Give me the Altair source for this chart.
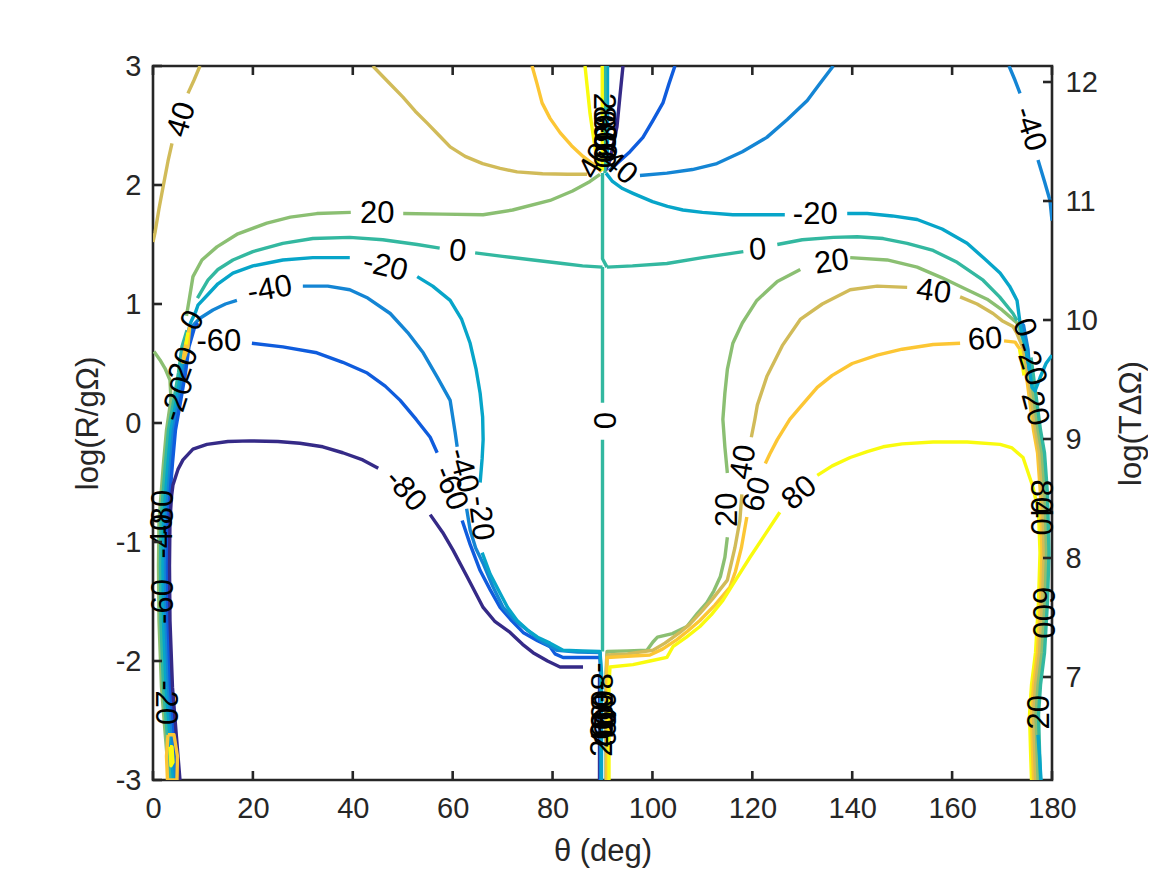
import altair as alt
import pandas as pd

# ---------------- data ----------------
LEVELS = ["-80", "-60", "-40", "-20", "0", "20", "40", "60", "80"]
COLORS = ["#352a87", "#0f5cdd", "#1485d4", "#07a5c9", "#33b8a0",
          "#8bbf72", "#d1bb59", "#fcc634", "#f9fb0e"]
X_TICKS = [0, 20, 40, 60, 80, 100, 120, 140, 160, 180]
Y_TICKS = [-3, -2, -1, 0, 1, 2, 3]
Y2_TICKS = [7, 8, 9, 10, 11, 12]
Y2_DOMAIN = [6.1345, 12.1345]

# level -80
N80_left = [(5.4, -3.0), (4.7, -2.64), (3.9, -2.22), (3.4, -1.66), (3.3, -1.2), (3.4, -0.82),
            (3.7, -0.62), (4.0, -0.52), (5.0, -0.39), (6.0, -0.31), (8.0, -0.22), (10.8, -0.18),
            (15.0, -0.155), (19.4, -0.15), (25.0, -0.155), (29.4, -0.17), (34.0, -0.2),
            (38.0, -0.25), (42.0, -0.31), (45.1, -0.38)]
N80_low = [(55.5, -0.77), (58.0, -0.92), (60.1, -1.07), (63.0, -1.3), (66.1, -1.55), (68.5, -1.67),
           (71.5, -1.76), (72.5, -1.8), (74.0, -1.86), (76.1, -1.93), (79.0, -2.0), (81.5, -2.05),
           (86.1, -2.05)]
N80_stem = [(89.4, -2.12), (89.4, -3.0)]
N80_top = [(94.1, 3.0), (93.5, 2.75), (92.9, 2.49), (92.2, 2.35), (91.5, 2.21), (90.6, 2.12)]

# level -60
N60_left = [(5.0, -3.0), (4.3, -2.64), (3.5, -2.22), (3.0, -1.66), (2.9, -1.2), (3.0, -0.82),
            (3.9, -0.34), (4.5, -0.06), (5.6, 0.2), (6.5, 0.42), (7.2, 0.64), (8.3, 0.8), (9.0, 0.84)]
N60_mid = [(19.8, 0.67), (26.0, 0.64), (32.8, 0.59), (38.0, 0.51), (42.9, 0.42), (46.5, 0.31),
           (49.5, 0.19), (52.7, 0.03), (55.5, -0.12), (56.9, -0.25)]
N60_low = [(61.9, -0.82), (63.5, -1.02), (65.5, -1.24), (67.5, -1.4), (69.5, -1.55), (71.8, -1.66),
           (74.1, -1.76), (77.0, -1.83), (79.5, -1.88), (80.5, -1.94), (82.1, -1.97), (86.0, -1.97),
           (89.5, -1.97), (89.6, -2.1), (89.6, -3.0)]
N60_top = [(104.5, 3.0), (103.3, 2.85), (102.1, 2.69), (100.2, 2.55), (98.1, 2.4), (95.5, 2.28),
           (92.9, 2.18), (91.3, 2.12)]

# level -40
N40_left = [(4.6, -3.0), (3.9, -2.64), (3.1, -2.22), (2.6, -1.66), (2.5, -1.2), (2.6, -0.82),
            (3.5, -0.34), (4.1, -0.06), (5.2, 0.2), (6.1, 0.42), (6.8, 0.64), (8.0, 0.82),
            (9.4, 0.88), (12.0, 0.95), (14.5, 1.0), (16.8, 1.03)]
N40_mid = [(30.0, 1.15), (35.0, 1.15), (39.4, 1.12), (43.0, 1.05), (47.5, 0.92), (51.0, 0.76),
           (54.1, 0.59), (57.0, 0.38), (59.5, 0.19), (60.5, -0.08), (60.9, -0.2)]
N40_low = [(62.8, -0.72), (63.5, -0.9), (64.6, -1.05), (66.1, -1.18), (68.0, -1.37), (70.1, -1.55),
           (72.5, -1.66), (75.5, -1.76), (78.0, -1.84), (80.9, -1.91), (85.0, -1.925),
           (89.5, -1.93), (89.7, -2.1), (89.7, -3.0)]
N40_top = [(136.2, 3.0), (133.5, 2.85), (131.0, 2.71), (127.0, 2.55), (122.9, 2.4), (118.0, 2.28),
           (112.9, 2.18), (108.0, 2.13), (102.9, 2.1), (97.5, 2.08)]
N40_tr = [(171.4, 3.0), (172.6, 2.88), (173.6, 2.77)]
N40_tr2 = [(177.2, 2.21), (178.5, 2.03), (179.6, 1.87), (180.0, 1.7)]
N40_blob = [(173.9, 0.84), (174.8, 0.62), (175.5, 0.44), (175.2, 0.62), (174.3, 0.82), (173.9, 0.84)]

# level -20
N20_left = [(4.1, -3.0), (3.4, -2.64), (2.6, -2.22), (2.1, -1.66), (2.0, -1.2), (2.1, -0.82),
            (3.0, -0.34), (3.6, -0.06), (4.7, 0.2), (5.6, 0.42), (6.3, 0.64), (7.5, 0.84),
            (8.5, 0.93), (9.0, 0.99), (11.0, 1.08), (13.0, 1.17), (16.0, 1.26), (20.0, 1.32),
            (26.0, 1.37), (32.0, 1.39), (39.4, 1.39)]
N20_mid = [(52.9, 1.23), (56.0, 1.15), (59.5, 1.03), (61.8, 0.87), (63.5, 0.67), (64.7, 0.45),
           (65.5, 0.25), (66.0, 0.05), (66.1, -0.14), (65.9, -0.3), (65.5, -0.5)]
N20_low = [(65.9, -1.09), (67.5, -1.27), (69.5, -1.43), (71.0, -1.55), (72.9, -1.66), (75.0, -1.74),
           (77.0, -1.8), (79.5, -1.85), (82.1, -1.91), (86.0, -1.915), (89.5, -1.92),
           (89.8, -2.1), (89.8, -3.0)]
N20_top = [(90.7, 2.1), (92.0, 2.03), (94.0, 1.97), (96.1, 1.93), (100.0, 1.86), (103.0, 1.82),
           (106.1, 1.79), (110.0, 1.77), (116.1, 1.75), (122.0, 1.75), (126.5, 1.75)]
N20_tr = [(139.0, 1.76), (143.0, 1.76), (148.0, 1.74), (153.0, 1.71), (158.0, 1.63), (163.0, 1.51),
          (166.5, 1.38), (169.6, 1.26), (171.5, 1.15), (173.0, 1.03), (173.6, 0.84), (174.0, 0.74)]
N20_edge = [(180.0, 0.57), (178.8, 0.5), (177.6, 0.38), (176.6, 0.27), (176.0, 0.3), (175.4, 0.48),
            (174.6, 0.66), (174.0, 0.74)]
N20_vert = [(91.0, 2.15), (91.0, 3.0)]
N20_blob = [(177.2, -2.62), (177.5, -2.8), (177.8, -3.0)]

# level 0
Z_left = [(3.6, -3.0), (2.9, -2.64), (2.1, -2.22), (1.6, -1.66), (1.5, -1.2), (1.6, -0.82),
          (2.5, -0.34), (3.1, -0.06), (4.2, 0.2), (5.1, 0.42), (5.8, 0.64), (6.8, 0.78)]
Z_ul = [(8.9, 1.05), (11.0, 1.2), (13.0, 1.29), (16.0, 1.37), (20.0, 1.44), (26.0, 1.51),
        (32.0, 1.55), (39.4, 1.56), (46.0, 1.54), (52.9, 1.5), (57.4, 1.47)]
Z_um = [(64.5, 1.43), (70.0, 1.4), (76.1, 1.37), (82.0, 1.34), (86.0, 1.32), (90.0, 1.31)]
Z_vert1 = [(90.0, 2.1), (90.0, 1.38), (90.9, 1.31)]
Z_vert2 = [(90.0, 1.31), (90.0, 0.17)]
Z_vert3 = [(90.0, -0.14), (90.0, -1.92)]
Z_ur = [(90.9, 1.31), (96.0, 1.32), (102.9, 1.34), (110.0, 1.39), (118.2, 1.44)]
Z_ur2 = [(125.0, 1.5), (130.0, 1.54), (136.2, 1.56), (141.0, 1.565), (146.2, 1.55), (151.0, 1.51),
         (156.2, 1.45), (161.0, 1.35), (166.2, 1.2), (169.5, 1.06), (172.2, 0.92), (173.0, 0.86)]
Z_right = [(177.7, -3.0), (177.5, -2.75), (177.3, -2.45), (177.7, -2.2), (178.5, -1.93),
           (179.1, -1.5), (179.4, -1.09), (179.1, -0.6), (178.5, -0.25), (177.7, -0.06),
           (176.4, 0.36), (175.8, 0.55)]
Z_top = [(90.5, 2.1), (90.5, 3.0)]

# level 20
P20_edge = [(0.2, 0.6), (1.4, 0.53), (2.4, 0.46), (3.4, 0.36), (3.6, 0.2), (2.7, -0.06),
            (2.1, -0.34), (1.2, -0.82), (1.1, -1.2), (1.2, -1.66), (1.7, -2.22), (2.5, -2.64),
            (3.2, -3.0)]
P20_ul = [(6.7, 0.9), (7.3, 1.05), (8.0, 1.23), (9.8, 1.37), (12.8, 1.48), (17.0, 1.59),
          (22.8, 1.68), (27.5, 1.73), (32.8, 1.76), (39.6, 1.77)]
P20_um = [(50.1, 1.76), (58.0, 1.755), (66.1, 1.75), (72.0, 1.79), (79.5, 1.87), (84.0, 1.95),
          (87.5, 2.03), (89.5, 2.09)]
P20_right = [(177.2, -3.0), (177.0, -2.75), (176.8, -2.45), (177.2, -2.2), (178.0, -1.93),
             (178.6, -1.5), (178.9, -1.09), (178.6, -0.6), (178.0, -0.25), (177.2, -0.06),
             (175.9, 0.36), (174.8, 0.62), (173.4, 0.8), (173.0, 0.84), (170.0, 0.95),
             (167.0, 1.04), (163.0, 1.12), (158.0, 1.22), (153.0, 1.31), (147.0, 1.37),
             (139.6, 1.39)]
P20_rm = [(129.6, 1.29), (125.0, 1.19), (120.9, 1.03), (118.0, 0.84), (116.1, 0.67), (115.0, 0.45),
          (114.5, 0.25), (114.1, 0.03), (114.5, -0.2), (115.0, -0.42)]
P20_rl = [(115.0, -0.96), (114.5, -1.13), (113.6, -1.29), (112.3, -1.41), (110.9, -1.51),
          (109.0, -1.6), (106.9, -1.71), (104.0, -1.77), (101.0, -1.8), (100.1, -1.84),
          (98.9, -1.91), (95.0, -1.915), (90.9, -1.92), (90.7, -2.1), (90.7, -3.0)]

# level 40
P40_tl = [(9.4, 3.0), (8.2, 2.88), (7.0, 2.77)]
P40_tl2 = [(3.8, 2.35), (3.0, 2.2), (2.0, 1.98), (1.2, 1.8), (0.4, 1.6), (0.0, 1.52)]
P40_top = [(44.0, 3.0), (47.0, 2.87), (50.0, 2.74), (52.5, 2.62), (54.9, 2.52), (57.2, 2.42),
           (59.5, 2.32), (62.5, 2.24), (66.0, 2.18), (69.5, 2.14), (72.9, 2.11), (78.0, 2.095),
           (83.0, 2.09), (86.9, 2.09)]
P40_right = [(176.7, -3.0), (176.5, -2.75), (176.3, -2.45), (176.7, -2.2), (177.5, -1.93),
             (178.1, -1.5), (178.4, -1.09), (178.1, -0.6), (177.5, -0.25), (176.7, -0.06),
             (175.4, 0.36), (174.3, 0.62), (172.9, 0.76), (172.2, 0.81), (170.0, 0.86),
             (168.2, 0.92), (165.0, 1.0), (161.6, 1.06)]
P40_rm = [(151.0, 1.14), (145.0, 1.15), (139.6, 1.12), (134.0, 1.0), (129.6, 0.87), (126.0, 0.65),
          (122.9, 0.39), (121.0, 0.15), (120.5, 0.03), (119.8, -0.12)]
P40_rl = [(117.9, -0.6), (117.5, -0.82), (116.5, -1.05), (115.0, -1.32), (112.0, -1.48),
          (109.5, -1.6), (107.5, -1.69), (105.5, -1.76), (102.5, -1.85), (100.1, -1.91),
          (95.0, -1.94), (90.9, -1.95), (90.8, -2.1), (90.8, -3.0)]

# level 60
P60_top = [(75.9, 3.0), (76.9, 2.85), (77.9, 2.69), (79.5, 2.56), (81.5, 2.44), (83.8, 2.33),
           (86.1, 2.24), (88.9, 2.15), (89.8, 2.11)]
P60_right = [(176.3, -3.0), (176.1, -2.75), (175.9, -2.45), (176.3, -2.2), (177.1, -1.93),
             (177.7, -1.5), (178.0, -1.09), (177.7, -0.6), (177.1, -0.25), (176.3, -0.06),
             (175.0, 0.36), (173.9, 0.6), (172.6, 0.68), (170.4, 0.69)]
P60_rm = [(161.6, 0.67), (156.2, 0.66), (150.0, 0.62), (145.0, 0.57), (140.0, 0.5), (136.0, 0.4),
          (133.0, 0.3), (129.5, 0.13), (127.5, 0.03), (125.0, -0.14), (123.5, -0.26), (122.6, -0.34)]
P60_rl = [(118.9, -0.79), (117.8, -1.05), (116.6, -1.25), (115.5, -1.38), (112.5, -1.53),
          (109.5, -1.66), (107.0, -1.75), (104.9, -1.82), (102.0, -1.9), (99.5, -1.95),
          (95.0, -1.96), (90.9, -1.97), (90.9, -3.0)]
P60_blob_bl = [(3.0, -2.62), (2.7, -2.8), (2.9, -3.0), (4.8, -3.0), (4.9, -2.8), (4.2, -2.62),
               (3.0, -2.62)]
P60_blob_l = [(5.9, 0.5), (6.5, 0.66), (7.3, 0.8), (7.0, 0.64), (5.9, 0.5)]

# level 80
P80_top = [(86.5, 3.0), (87.0, 2.8), (87.5, 2.6), (88.2, 2.4), (88.9, 2.21), (89.6, 2.12)]
P80_vert = [(89.95, 2.12), (89.95, 3.0)]
P80_right = [(175.9, -3.0), (175.7, -2.75), (175.5, -2.45), (175.9, -2.2), (176.7, -1.93),
             (177.3, -1.5), (177.6, -1.09), (177.3, -0.75), (176.2, -0.54), (174.2, -0.29),
             (172.0, -0.21), (169.6, -0.18), (163.0, -0.16), (156.2, -0.16), (150.0, -0.175),
             (146.2, -0.2), (143.0, -0.24), (139.6, -0.29), (136.0, -0.36), (133.0, -0.44)]
P80_rl = [(125.5, -0.75), (122.5, -0.94), (119.5, -1.13), (116.8, -1.31), (114.1, -1.49),
          (111.8, -1.61), (109.5, -1.71), (106.8, -1.8), (104.1, -1.88), (102.9, -1.97),
          (99.5, -2.0), (96.1, -2.03), (91.5, -2.05), (91.3, -2.2), (91.3, -3.0)]
P80_blob_bl = [(3.4, -2.72), (3.6, -2.88), (4.0, -2.85), (3.8, -2.72), (3.4, -2.72)]
P80_l = [(6.6, 0.66), (7.0, 0.76)]
P80_r = [(173.5, 0.62), (174.0, 0.5), (174.4, 0.4)]

SEGMENTS = [
    ("20", P20_edge), ("0", Z_left), ("-20", N20_left), ("-40", N40_left), ("-60", N60_left),
    ("-80", N80_left),
    ("80", P80_right), ("60", P60_right), ("40", P40_right), ("20", P20_right), ("0", Z_right),
    ("-80", N80_low), ("-80", N80_stem), ("-80", N80_top),
    ("-60", N60_mid), ("-60", N60_low), ("-60", N60_top),
    ("-40", N40_mid), ("-40", N40_low), ("-40", N40_top), ("-40", N40_tr), ("-40", N40_tr2),
    ("-40", N40_blob),
    ("-20", N20_mid), ("-20", N20_low), ("-20", N20_top), ("-20", N20_tr), ("-20", N20_edge),
    ("-20", N20_vert), ("-20", N20_blob),
    ("0", Z_ul), ("0", Z_um), ("0", Z_vert1), ("0", Z_vert2), ("0", Z_vert3), ("0", Z_ur),
    ("0", Z_ur2), ("0", Z_top),
    ("20", P20_ul), ("20", P20_um), ("20", P20_rm), ("20", P20_rl),
    ("40", P40_tl), ("40", P40_tl2), ("40", P40_top), ("40", P40_rm), ("40", P40_rl),
    ("60", P60_top), ("60", P60_rm), ("60", P60_rl), ("60", P60_blob_bl), ("60", P60_blob_l),
    ("80", P80_top), ("80", P80_vert), ("80", P80_rl), ("80", P80_blob_bl), ("80", P80_l),
    ("80", P80_r),
]

# contour labels: text, theta, logR, angle (deg, clockwise)
LABEL_TEXT = ["40", "20", "0", "-20", "-40", "-60", "0", "20", "-20",
              "-80", "-40", "-60", "-20",
              "-80", "-60", "-40", "-20", "0",
              "-20", "0", "20", "40", "60", "80", "20", "40", "60",
              "-40", "0", "-20", "20",
              "80", "40", "60", "0", "20",
              "20", "80", "60", "-80", "-60", "0", "40", "-40",
              "-80", "-60", "-40", "-20", "80", "60", "40", "20"]
LABEL_THETA = [5.8, 44.9, 61.0, 46.5, 23.4, 13.2, 8.0, 6.2, 5.0,
               2.3, 2.1, 2.2, 2.4,
               50.5, 59.5, 62.0, 65.5, 90.0,
               132.6, 121.1, 135.9, 156.3, 166.6, 129.5, 115.2, 118.3, 121.0,
               175.5, 174.4, 175.6, 176.5,
               177.6, 177.6, 178.0, 178.0, 177.6,
               90.0, 90.0, 90.2, 90.3, 90.1, 90.2, 88.6, 92.6,
               89.5, 90.0, 90.0, 90.0, 90.3, 90.3, 90.3, 90.2]
LABEL_LOGR = [2.55, 1.76, 1.44, 1.31, 1.12, 0.68, 0.86, 0.49, 0.2,
              -0.75, -0.95, -1.5, -2.35,
              -0.57, -0.55, -0.4, -0.8, 0.02,
              1.75, 1.45, 1.35, 1.1, 0.7, -0.59, -0.73, -0.33, -0.6,
              2.47, 0.8, 0.5, 0.12,
              -0.62, -0.8, -1.52, -1.74, -2.43,
              2.63, 2.52, 2.45, 2.4, 2.33, 2.26, 2.2, 2.17,
              -2.2, -2.35, -2.45, -2.53, -2.42, -2.5, -2.58, -2.66]
LABEL_ANGLE = [287, 0, 4, 14, 350, 0, 300, 290, 288,
               270, 270, 270, 90,
               48, 68, 75, 83, 90,
               0, 356, 352, 8, 356, 320, 270, 280, 285,
               72, 70, 72, 75,
               90, 90, 90, 90, 270,
               90, 90, 90, 90, 90, 90, 300, 40,
               90, 90, 90, 90, 270, 270, 270, 270]

# ---------------- build tables ----------------
rows = []
for sid, (lev, pts) in enumerate(SEGMENTS):
    for k, (t, r) in enumerate(pts):
        rows.append({"seg": sid, "k": k, "level": lev, "theta": t, "logR": r})
lines_df = pd.DataFrame(rows)

labels_df = pd.DataFrame({"txt": LABEL_TEXT, "theta": LABEL_THETA,
                          "logR": LABEL_LOGR, "angle": LABEL_ANGLE})
xt_df = pd.DataFrame({"theta": X_TICKS})
yt_df = pd.DataFrame({"logR": Y_TICKS})
y2t_df = pd.DataFrame({"r": Y2_TICKS})

W, H = 899, 714
AX = "#262626"
FONT = "Liberation Sans"

xs = alt.Scale(domain=[0, 180], nice=False, zero=False)
ys = alt.Scale(domain=[-3, 3], nice=False, zero=False)

x_axis = alt.Axis(values=X_TICKS, title="θ (deg)", labelPadding=14, titleY=80,
                  titleBaseline="alphabetic", labelExpr="toString(datum.value)")
y_axis = alt.Axis(values=Y_TICKS, title="log(R/gΩ)", labelPadding=12, titleX=-65,
                  titleAngle=270, titleBaseline="middle", labelExpr="toString(datum.value)")
y2_axis = alt.Axis(orient="right", values=Y2_TICKS, title="log(TΔΩ)", labelPadding=13,
                   titleX=79, titleAngle=270, titleBaseline="middle",
                   labelExpr="toString(datum.value)")

lines = alt.Chart(lines_df).mark_line(strokeWidth=3.4, clip=True, strokeJoin="round").encode(
    x=alt.X("theta:Q", scale=xs, axis=x_axis),
    y=alt.Y("logR:Q", scale=ys, axis=y_axis),
    color=alt.Color("level:N", scale=alt.Scale(domain=LEVELS, range=COLORS), legend=None),
    detail="seg:N",
    order="k:Q",
)

labels = alt.Chart(labels_df).mark_text(font=FONT, fontSize=31, color="black",
                                        align="center", baseline="middle").encode(
    x=alt.X("theta:Q", scale=xs),
    y=alt.Y("logR:Q", scale=ys),
    text="txt:N",
    angle=alt.Angle("angle:Q", scale=None),
)

tick_bottom = alt.Chart(xt_df).mark_rule(color=AX, strokeWidth=2.6).encode(
    x=alt.X("theta:Q", scale=xs), y=alt.value(H), y2=alt.value(H - 9))
tick_top = alt.Chart(xt_df).mark_rule(color=AX, strokeWidth=2.6).encode(
    x=alt.X("theta:Q", scale=xs), y=alt.value(0), y2=alt.value(9))
tick_left = alt.Chart(yt_df).mark_rule(color=AX, strokeWidth=2.6).encode(
    y=alt.Y("logR:Q", scale=ys), x=alt.value(0), x2=alt.value(9))

main = alt.layer(lines, labels, tick_bottom, tick_top, tick_left)

right = alt.Chart(y2t_df).mark_rule(color=AX, strokeWidth=2.6).encode(
    y=alt.Y("r:Q", scale=alt.Scale(domain=Y2_DOMAIN, nice=False, zero=False), axis=y2_axis),
    x=alt.value(W), x2=alt.value(W - 9))

chart = alt.layer(main, right).resolve_scale(y="independent").properties(
    width=W, height=H,
    autosize=alt.AutoSizeParams(type="none"),
    padding={"left": 145, "top": 58, "right": 96, "bottom": 90},
    background="white",
).configure_view(stroke=AX, strokeWidth=2.6).configure_axis(
    domain=False, ticks=False, tickSize=0, grid=False,
    labelFont=FONT, labelFontSize=29, labelColor=AX,
    titleFont=FONT, titleFontSize=31, titleFontWeight="normal", titleColor=AX,
    labelFlush=False, labelOverlap=False,
)

chart.save("out.html", embed_options={"renderer": "svg", "actions": False})
